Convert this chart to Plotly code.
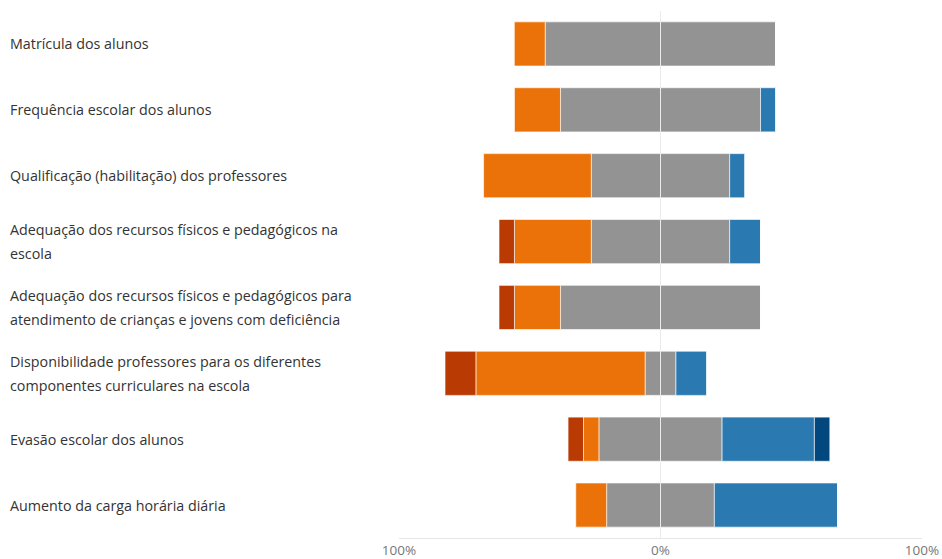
import plotly.graph_objects as go

categories = [
    ["Matrícula dos alunos"],
    ["Frequência escolar dos alunos"],
    ["Qualificação (habilitação) dos professores"],
    ["Adequação dos recursos físicos e pedagógicos na", "escola"],
    ["Adequação dos recursos físicos e pedagógicos para", "atendimento de crianças e jovens com deficiência"],
    ["Disponibilidade professores para os diferentes", "componentes curriculares na escola"],
    ["Evasão escolar dos alunos"],
    ["Aumento da carga horária diária"],
]

# percentage of responses per level (%)
muito_negativo = [0.0, 0.0, 0.0, 5.9, 5.9, 11.8, 5.9, 0.0]
negativo       = [11.8, 17.6, 41.2, 29.4, 17.6, 64.7, 5.9, 11.8]
neutro         = [88.2, 76.5, 52.9, 52.9, 76.5, 11.8, 47.1, 41.2]
positivo       = [0.0, 5.9, 5.9, 11.8, 0.0, 11.8, 35.3, 47.1]
muito_positivo = [0.0, 0.0, 0.0, 0.0, 0.0, 0.0, 5.9, 0.0]

tick_vals = [-100, 0, 100]
tick_text = ["100%", "0%", "100%"]

colors = {
    "mn": "#BA3A04",
    "n": "#EB7209",
    "ne": "#939393",
    "p": "#2B79B1",
    "mp": "#03477F",
}

ypos = list(range(len(categories)))
line = dict(color="rgba(255,255,255,0.6)", width=1)

fig = go.Figure()

def add(vals, color, sign):
    fig.add_trace(go.Bar(
        y=ypos, x=[sign * v for v in vals], orientation="h",
        marker=dict(color=color, line=line), width=0.67,
        showlegend=False, hoverinfo="skip",
    ))

add([v / 2 for v in neutro], colors["ne"], -1)
add([v / 2 for v in neutro], colors["ne"], 1)
add(negativo, colors["n"], -1)
add(positivo, colors["p"], 1)
add(muito_negativo, colors["mn"], -1)
add(muito_positivo, colors["mp"], 1)

font_family = "Open Sans, Noto Sans, sans-serif"

annotations = []
for i, lines in enumerate(categories):
    if len(lines) == 1:
        shifts = [0]
    else:
        shifts = [12, -12]
    for txt, sh in zip(lines, shifts):
        annotations.append(dict(
            x=-391 / 523, xref="paper", y=i, yref="y",
            text=txt, showarrow=False, xanchor="left", yanchor="middle",
            yshift=sh, font=dict(family=font_family, size=14.3, color="#333333"),
        ))

fig.update_layout(
    width=942, height=559, autosize=False,
    margin=dict(l=399, r=20, t=11, b=21, pad=0),
    barmode="relative",
    plot_bgcolor="white", paper_bgcolor="white",
    bargap=0.33,
    annotations=annotations,
    font=dict(family=font_family),
    xaxis=dict(
        range=[-100, 100], tickvals=tick_vals, ticktext=tick_text,
        showgrid=True, gridcolor="#E6E6E6", gridwidth=1,
        zeroline=False, showline=True, linecolor="#E6E6E6",
        tickfont=dict(size=13.5, color="#777777", family=font_family),
        fixedrange=True, automargin=False,
    ),
    yaxis=dict(
        range=[7.5, -0.5], showticklabels=False, showgrid=False,
        zeroline=False, fixedrange=True, automargin=False,
    ),
)

fig.add_shape(type="line", x0=0, x1=0, y0=0, y1=1, xref="x", yref="paper",
              line=dict(color="rgba(235,235,235,0.9)", width=1), layer="above")

fig.write_html("out.html", config={"responsive": False})
